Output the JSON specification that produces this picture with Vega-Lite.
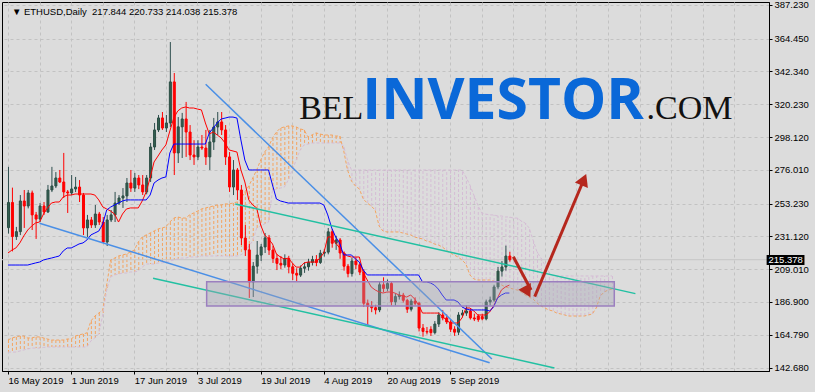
{
  "$schema": "https://vega.github.io/schema/vega-lite/v6.json",
  "width": 767,
  "height": 369,
  "autosize": {"type": "none"},
  "padding": {"left": 2, "top": 2, "right": 46, "bottom": 21},
  "background": "#dcdcdc",
  "config": {
    "view": {"stroke": "#000000", "strokeWidth": 1},
    "font": "Liberation Sans",
    "axis": {"labelFont": "Liberation Sans", "labelColor": "#000000", "domainColor": "#000000", "tickColor": "#000000"}
  },
  "resolve": {"axis": {"x": "independent", "y": "independent"}},
  "datasets": {
    "bars": [
      {"t":"2019-05-16","o":237,"h":278,"l":233,"c":254,"tk":219.9,"kj":211.8},
      {"t":"2019-05-17","o":254,"h":264,"l":221,"c":231,"tk":221.9,"kj":211.8},
      {"t":"2019-05-18","o":231,"h":237.5,"l":228.7,"c":234.3,"tk":223.3,"kj":211.8},
      {"t":"2019-05-19","o":234.3,"h":259,"l":232,"c":255,"tk":226.7,"kj":211.8},
      {"t":"2019-05-20","o":255,"h":262.4,"l":236.8,"c":251.6,"tk":231.4,"kj":211.8},
      {"t":"2019-05-21","o":251.6,"h":262.4,"l":250,"c":260.4,"tk":235.4,"kj":211.8},
      {"t":"2019-05-22","o":260.4,"h":262,"l":235.4,"c":245.6,"tk":238.1,"kj":212.5},
      {"t":"2019-05-23","o":245.6,"h":247.6,"l":229.4,"c":242.8,"tk":240.2,"kj":213.2},
      {"t":"2019-05-24","o":242.8,"h":253.6,"l":240.8,"c":251.6,"tk":240.8,"kj":213.8},
      {"t":"2019-05-25","o":251.6,"h":254.3,"l":245.6,"c":247.6,"tk":246.2,"kj":215.2},
      {"t":"2019-05-26","o":247.6,"h":265.8,"l":246.9,"c":262.4,"tk":250.3,"kj":215.9},
      {"t":"2019-05-27","o":262.4,"h":278,"l":261,"c":265.1,"tk":253.6,"kj":216.5},
      {"t":"2019-05-28","o":265.1,"h":274.5,"l":263.7,"c":270.5,"tk":254.3,"kj":217.2},
      {"t":"2019-05-29","o":270.5,"h":275.9,"l":267.1,"c":267.8,"tk":254.3,"kj":217.9},
      {"t":"2019-05-30","o":267.8,"h":287.4,"l":257,"c":261.1,"tk":257.7,"kj":221.3},
      {"t":"2019-05-31","o":261.1,"h":262.4,"l":246.9,"c":260.4,"tk":259,"kj":223.3},
      {"t":"2019-06-01","o":260.4,"h":272.5,"l":259,"c":263.1,"tk":259,"kj":223.3},
      {"t":"2019-06-02","o":263.1,"h":271.2,"l":261,"c":264.4,"tk":259.7,"kj":224.6},
      {"t":"2019-06-03","o":264.4,"h":269.1,"l":254.3,"c":259,"tk":259.7,"kj":226},
      {"t":"2019-06-04","o":259,"h":260.4,"l":232,"c":236.8,"tk":259.7,"kj":226.7},
      {"t":"2019-06-05","o":236.8,"h":245.6,"l":230.7,"c":242.2,"tk":259.7,"kj":228.7},
      {"t":"2019-06-06","o":242.2,"h":244.2,"l":236.8,"c":238.8,"tk":259.7,"kj":232.1},
      {"t":"2019-06-07","o":238.8,"h":252.3,"l":236.8,"c":246.2,"tk":259,"kj":233.4},
      {"t":"2019-06-08","o":246.2,"h":247.6,"l":238.8,"c":240.8,"tk":255.7,"kj":234.7},
      {"t":"2019-06-09","o":240.8,"h":244.2,"l":226.7,"c":227.3,"tk":251,"kj":239.5},
      {"t":"2019-06-10","o":227.3,"h":245.6,"l":224.6,"c":242.2,"tk":249.6,"kj":248.9},
      {"t":"2019-06-11","o":242.2,"h":248.9,"l":240.8,"c":245.6,"tk":248.2,"kj":250.9},
      {"t":"2019-06-12","o":245.6,"h":261.1,"l":240.8,"c":253.6,"tk":246.2,"kj":252.3},
      {"t":"2019-06-13","o":253.6,"h":259,"l":252.3,"c":257,"tk":240.8,"kj":253.6},
      {"t":"2019-06-14","o":257,"h":263.7,"l":250.3,"c":258.4,"tk":246.2,"kj":255},
      {"t":"2019-06-15","o":258.4,"h":270.5,"l":254.3,"c":267.1,"tk":249.6,"kj":255.7},
      {"t":"2019-06-16","o":267.1,"h":275.9,"l":261.1,"c":263.7,"tk":250.3,"kj":255.7},
      {"t":"2019-06-17","o":263.7,"h":273.9,"l":261.1,"c":270.5,"tk":250.3,"kj":255.7},
      {"t":"2019-06-18","o":270.5,"h":272.5,"l":263,"c":265.8,"tk":250.3,"kj":255.7},
      {"t":"2019-06-19","o":265.8,"h":272.5,"l":259,"c":261.1,"tk":255,"kj":255.7},
      {"t":"2019-06-20","o":261.1,"h":272.5,"l":259.5,"c":270.5,"tk":261.1,"kj":255.7},
      {"t":"2019-06-21","o":270.5,"h":294.1,"l":267.8,"c":291.4,"tk":270.5,"kj":259},
      {"t":"2019-06-22","o":291.4,"h":307.6,"l":289.4,"c":302.9,"tk":281.3,"kj":267.1},
      {"t":"2019-06-23","o":302.9,"h":313,"l":301.5,"c":311,"tk":285.3,"kj":269.1},
      {"t":"2019-06-24","o":311,"h":315,"l":302.9,"c":304.2,"tk":289.4,"kj":270.5},
      {"t":"2019-06-25","o":304.2,"h":313,"l":301.5,"c":307.6,"tk":292.8,"kj":271.2},
      {"t":"2019-06-26","o":307.6,"h":362.2,"l":304.9,"c":335.3,"tk":302.2,"kj":287.4},
      {"t":"2019-06-27","o":335.3,"h":341.3,"l":272.5,"c":287.4,"tk":311,"kj":293.4},
      {"t":"2019-06-28","o":287.4,"h":311.6,"l":280.6,"c":305,"tk":315.7,"kj":293.4},
      {"t":"2019-06-29","o":305,"h":314.4,"l":284,"c":310.3,"tk":317.7,"kj":293.4},
      {"t":"2019-06-30","o":310.3,"h":321.8,"l":284.7,"c":301.5,"tk":318.4,"kj":293.4},
      {"t":"2019-07-01","o":301.5,"h":306.2,"l":282.6,"c":286,"tk":317.7,"kj":293.4},
      {"t":"2019-07-02","o":286,"h":296,"l":279.3,"c":284.7,"tk":317.7,"kj":293.4},
      {"t":"2019-07-03","o":284.7,"h":296,"l":282.6,"c":291.4,"tk":317,"kj":293.4},
      {"t":"2019-07-04","o":291.4,"h":299.5,"l":289.4,"c":290.7,"tk":316.4,"kj":293.4},
      {"t":"2019-07-05","o":290.7,"h":302.9,"l":279.3,"c":284.7,"tk":307.6,"kj":293.4},
      {"t":"2019-07-06","o":284.7,"h":302.9,"l":275.9,"c":294.8,"tk":300.2,"kj":300.9},
      {"t":"2019-07-07","o":294.8,"h":311,"l":289.4,"c":304.9,"tk":301.5,"kj":304.2},
      {"t":"2019-07-08","o":304.9,"h":315,"l":299.5,"c":308.3,"tk":299.5,"kj":307.6},
      {"t":"2019-07-09","o":308.3,"h":315,"l":299.5,"c":302.9,"tk":297.5,"kj":310.3},
      {"t":"2019-07-10","o":302.9,"h":306.2,"l":279.3,"c":284.7,"tk":294.1,"kj":310.9},
      {"t":"2019-07-11","o":284.7,"h":288,"l":261.1,"c":264.4,"tk":289.4,"kj":311.6},
      {"t":"2019-07-12","o":264.4,"h":282.6,"l":259,"c":275.9,"tk":288.7,"kj":311.6},
      {"t":"2019-07-13","o":275.9,"h":277.2,"l":255.7,"c":262.4,"tk":288,"kj":310.9},
      {"t":"2019-07-14","o":262.4,"h":265.8,"l":225.3,"c":230,"tk":275.9,"kj":296.1},
      {"t":"2019-07-15","o":230,"h":238.8,"l":217.9,"c":222,"tk":267.8,"kj":282.6},
      {"t":"2019-07-16","o":222,"h":226,"l":189.6,"c":200.4,"tk":255.7,"kj":275.9},
      {"t":"2019-07-17","o":200.4,"h":213.8,"l":190.2,"c":211,"tk":252.3,"kj":275.9},
      {"t":"2019-07-18","o":211,"h":228,"l":206,"c":218.5,"tk":250.3,"kj":275.9},
      {"t":"2019-07-19","o":218.5,"h":226,"l":214.5,"c":224,"tk":238.8,"kj":275.9},
      {"t":"2019-07-20","o":224,"h":233.4,"l":219.9,"c":230.1,"tk":232.1,"kj":275.9},
      {"t":"2019-07-21","o":230.1,"h":232.1,"l":218.6,"c":221.9,"tk":229.4,"kj":275.9},
      {"t":"2019-07-22","o":221.9,"h":224.6,"l":213.2,"c":216.2,"tk":226,"kj":265.8},
      {"t":"2019-07-23","o":216.2,"h":219.2,"l":208.4,"c":212.9,"tk":219.2,"kj":256.3},
      {"t":"2019-07-24","o":212.9,"h":217.9,"l":209,"c":211.8,"tk":217.2,"kj":255},
      {"t":"2019-07-25","o":211.8,"h":219,"l":210,"c":216.2,"tk":215.9,"kj":254.3},
      {"t":"2019-07-26","o":216.2,"h":218,"l":206.2,"c":210.6,"tk":216.5,"kj":253.6},
      {"t":"2019-07-27","o":210.6,"h":212.9,"l":201.7,"c":206.2,"tk":213.2,"kj":253.6},
      {"t":"2019-07-28","o":206.2,"h":209.6,"l":201,"c":205,"tk":210.4,"kj":253.6},
      {"t":"2019-07-29","o":205,"h":211.5,"l":203.7,"c":209.6,"tk":210.4,"kj":253.6},
      {"t":"2019-07-30","o":209.6,"h":213.6,"l":206.5,"c":210.6,"tk":213.2,"kj":253.6},
      {"t":"2019-07-31","o":210.6,"h":216,"l":208,"c":213.6,"tk":213.8,"kj":253.6},
      {"t":"2019-08-01","o":213.6,"h":218,"l":211.5,"c":215.5,"tk":213.8,"kj":253.6},
      {"t":"2019-08-02","o":215.5,"h":218.5,"l":211,"c":213.5,"tk":213.8,"kj":253.6},
      {"t":"2019-08-03","o":213.5,"h":222,"l":212.5,"c":219.8,"tk":216.5,"kj":253.6},
      {"t":"2019-08-04","o":219.8,"h":222.5,"l":217.5,"c":220.5,"tk":219.9,"kj":252.3},
      {"t":"2019-08-05","o":220.5,"h":236.8,"l":219,"c":234.2,"tk":230.7,"kj":245.6},
      {"t":"2019-08-06","o":234.2,"h":236,"l":223.5,"c":226.5,"tk":230.7,"kj":236.8},
      {"t":"2019-08-07","o":226.5,"h":231.5,"l":222,"c":228.7,"tk":226.7,"kj":230.7},
      {"t":"2019-08-08","o":228.7,"h":230,"l":216,"c":219.9,"tk":223.3,"kj":226.7},
      {"t":"2019-08-09","o":219.9,"h":221,"l":208,"c":211,"tk":219.9,"kj":218.6},
      {"t":"2019-08-10","o":211,"h":212.5,"l":203.5,"c":206,"tk":217.9,"kj":218.6},
      {"t":"2019-08-11","o":206,"h":216.5,"l":204,"c":214.5,"tk":217.2,"kj":218.6},
      {"t":"2019-08-12","o":214.5,"h":217,"l":209,"c":212,"tk":217.2,"kj":215.9},
      {"t":"2019-08-13","o":212,"h":213.5,"l":205,"c":207,"tk":217.2,"kj":213.8},
      {"t":"2019-08-14","o":207,"h":209,"l":183.5,"c":186,"tk":206.4,"kj":208.4},
      {"t":"2019-08-15","o":186,"h":188.5,"l":171,"c":184,"tk":201.7,"kj":205.1},
      {"t":"2019-08-16","o":184,"h":187.5,"l":180,"c":183,"tk":197,"kj":205.1},
      {"t":"2019-08-17","o":183,"h":185,"l":178.5,"c":181.5,"tk":195,"kj":205.1},
      {"t":"2019-08-18","o":181.5,"h":201,"l":180,"c":198.5,"tk":193.6,"kj":205.1},
      {"t":"2019-08-19","o":198.5,"h":203.5,"l":193.5,"c":196,"tk":192.9,"kj":205.1},
      {"t":"2019-08-20","o":196,"h":202,"l":194.3,"c":199.3,"tk":193.6,"kj":205.1},
      {"t":"2019-08-21","o":199.3,"h":200.5,"l":184.5,"c":187,"tk":193.6,"kj":205.1},
      {"t":"2019-08-22","o":187,"h":192.5,"l":184.5,"c":190.5,"tk":192.9,"kj":205.1},
      {"t":"2019-08-23","o":190.5,"h":194,"l":188.5,"c":191.5,"tk":191.6,"kj":205.1},
      {"t":"2019-08-24","o":191.5,"h":193,"l":186.5,"c":188,"tk":190.9,"kj":205.1},
      {"t":"2019-08-25","o":188,"h":189,"l":179.5,"c":182,"tk":190.2,"kj":205.1},
      {"t":"2019-08-26","o":182,"h":189,"l":180.5,"c":187.5,"tk":191.6,"kj":205.1},
      {"t":"2019-08-27","o":187.5,"h":190,"l":184.5,"c":186,"tk":188.9,"kj":205.1},
      {"t":"2019-08-28","o":186,"h":187,"l":167,"c":169.3,"tk":184.9,"kj":205.1},
      {"t":"2019-08-29","o":169.3,"h":172,"l":163.5,"c":167,"tk":179.4,"kj":200.4},
      {"t":"2019-08-30","o":167,"h":170,"l":165,"c":166.6,"tk":179.4,"kj":200.4},
      {"t":"2019-08-31","o":168.4,"h":170.5,"l":164,"c":166.2,"tk":179.4,"kj":199.7},
      {"t":"2019-09-01","o":166.2,"h":174,"l":165,"c":172,"tk":179.4,"kj":198.3},
      {"t":"2019-09-02","o":172,"h":180,"l":170,"c":178.1,"tk":179.4,"kj":195.6},
      {"t":"2019-09-03","o":178.1,"h":181.5,"l":174.5,"c":176.1,"tk":177.4,"kj":191.6},
      {"t":"2019-09-04","o":176.1,"h":178.5,"l":172,"c":173.4,"tk":174.7,"kj":188.2},
      {"t":"2019-09-05","o":173.4,"h":175,"l":166.6,"c":168.5,"tk":172.7,"kj":188.2},
      {"t":"2019-09-06","o":168.5,"h":170.5,"l":164,"c":166.5,"tk":172.7,"kj":188.2},
      {"t":"2019-09-07","o":166.5,"h":180,"l":164.5,"c":178.1,"tk":172.7,"kj":186.9},
      {"t":"2019-09-08","o":178.1,"h":181.5,"l":176.5,"c":179.4,"tk":176.1,"kj":183.5},
      {"t":"2019-09-09","o":179.4,"h":184.5,"l":177.5,"c":180.8,"tk":182.8,"kj":182.2},
      {"t":"2019-09-10","o":180.8,"h":182,"l":175,"c":176.1,"tk":182.8,"kj":181.5},
      {"t":"2019-09-11","o":176.1,"h":179,"l":174,"c":175.4,"tk":180.8,"kj":181.5},
      {"t":"2019-09-12","o":177.4,"h":178.5,"l":173.5,"c":175,"tk":178.1,"kj":181.5},
      {"t":"2019-09-13","o":177,"h":179,"l":174.5,"c":175.5,"tk":178.1,"kj":181.5},
      {"t":"2019-09-14","o":175.5,"h":188.5,"l":174.5,"c":186.9,"tk":178.1,"kj":181.5},
      {"t":"2019-09-15","o":186.9,"h":190.5,"l":184.5,"c":188.2,"tk":180.1,"kj":180.8},
      {"t":"2019-09-16","o":188.2,"h":198.5,"l":187,"c":197,"tk":184.2,"kj":183.5},
      {"t":"2019-09-17","o":197,"h":210.5,"l":195.5,"c":207.7,"tk":189.6,"kj":189.5},
      {"t":"2019-09-18","o":207.7,"h":214.5,"l":204,"c":210.5,"tk":195,"kj":191.6},
      {"t":"2019-09-19","o":210.5,"h":224.9,"l":208,"c":217.844,"tk":197,"kj":192.9},
      {"t":"2019-09-20","o":217.844,"h":220.733,"l":214.038,"c":215.378,"tk":198.3,"kj":192.9}
    ],
    "cloud": [
      {"t":"2019-05-16","a":161.2,"b":153.1},{"t":"2019-05-17","a":162.6,"b":153.1},
      {"t":"2019-05-18","a":163.3,"b":153.1},{"t":"2019-05-19","a":163.9,"b":153.8},
      {"t":"2019-05-20","a":163.9,"b":154.5},{"t":"2019-05-21","a":162.6,"b":155.2},
      {"t":"2019-05-22","a":162.6,"b":155.8},{"t":"2019-05-23","a":163.3,"b":155.8},
      {"t":"2019-05-24","a":163.3,"b":155.8},{"t":"2019-05-25","a":162.6,"b":156.2},
      {"t":"2019-05-26","a":161.9,"b":156.5},{"t":"2019-05-27","a":161.2,"b":156.5},
      {"t":"2019-05-28","a":161.2,"b":156.5},{"t":"2019-05-29","a":161.2,"b":156.5},
      {"t":"2019-05-30","a":161.2,"b":156.5},{"t":"2019-05-31","a":161.9,"b":156.5},
      {"t":"2019-06-01","a":161.9,"b":156.5},{"t":"2019-06-02","a":163.9,"b":156.5},
      {"t":"2019-06-03","a":164.6,"b":156.5},{"t":"2019-06-04","a":165.3,"b":156.5},
      {"t":"2019-06-05","a":166,"b":156.5},{"t":"2019-06-06","a":174,"b":160.6},
      {"t":"2019-06-07","a":177.4,"b":162.6},{"t":"2019-06-08","a":179.4,"b":165.3},
      {"t":"2019-06-09","a":181.5,"b":178.1},{"t":"2019-06-10","a":198.3,"b":194.9},
      {"t":"2019-06-11","a":215.2,"b":203.7},{"t":"2019-06-12","a":216.5,"b":205.1},
      {"t":"2019-06-13","a":217.9,"b":205.7},{"t":"2019-06-14","a":218.6,"b":206.4},
      {"t":"2019-06-15","a":219.2,"b":206.4},{"t":"2019-06-16","a":220.6,"b":207.1},
      {"t":"2019-06-17","a":221.9,"b":207.1},{"t":"2019-06-18","a":227.3,"b":207.7},
      {"t":"2019-06-19","a":230.7,"b":210.4},{"t":"2019-06-20","a":232.1,"b":212.5},
      {"t":"2019-06-21","a":233.4,"b":212.5},{"t":"2019-06-22","a":234.7,"b":212.5},
      {"t":"2019-06-23","a":236.1,"b":213.2},{"t":"2019-06-24","a":236.8,"b":213.2},
      {"t":"2019-06-25","a":237.5,"b":213.8},{"t":"2019-06-26","a":240.8,"b":214.5},
      {"t":"2019-06-27","a":243.5,"b":215.2},{"t":"2019-06-28","a":244.2,"b":215.9},
      {"t":"2019-06-29","a":243.5,"b":216.5},{"t":"2019-06-30","a":243.5,"b":216.5},
      {"t":"2019-07-01","a":245.6,"b":217.2},{"t":"2019-07-02","a":246.9,"b":217.2},
      {"t":"2019-07-03","a":248.2,"b":217.2},{"t":"2019-07-04","a":249.6,"b":217.9},
      {"t":"2019-07-05","a":250.3,"b":217.9},{"t":"2019-07-06","a":250.9,"b":217.9},
      {"t":"2019-07-07","a":251.6,"b":217.9},{"t":"2019-07-08","a":252.3,"b":217.9},
      {"t":"2019-07-09","a":252.3,"b":217.9},{"t":"2019-07-10","a":253,"b":217.9},
      {"t":"2019-07-11","a":253,"b":217.9},{"t":"2019-07-12","a":253.6,"b":217.9},
      {"t":"2019-07-13","a":254.3,"b":217.9},{"t":"2019-07-14","a":256.3,"b":218.6},
      {"t":"2019-07-15","a":261.1,"b":220.6},{"t":"2019-07-16","a":265.1,"b":224.6},
      {"t":"2019-07-17","a":270.5,"b":228},{"t":"2019-07-18","a":275.9,"b":236.8},
      {"t":"2019-07-19","a":282.6,"b":238.1},{"t":"2019-07-20","a":288,"b":239.5},
      {"t":"2019-07-21","a":291.4,"b":240.8},{"t":"2019-07-22","a":297.5,"b":262.4},
      {"t":"2019-07-23","a":301.5,"b":263.1},{"t":"2019-07-24","a":304.2,"b":263.7},
      {"t":"2019-07-25","a":304.9,"b":264.4},{"t":"2019-07-26","a":305.6,"b":269.1},
      {"t":"2019-07-27","a":305.6,"b":275.9},{"t":"2019-07-28","a":304.9,"b":282.6},
      {"t":"2019-07-29","a":303.6,"b":289.4},{"t":"2019-07-30","a":302.9,"b":292.8},
      {"t":"2019-07-31","a":298.2,"b":293.4},{"t":"2019-08-01","a":299.5,"b":294.1},
      {"t":"2019-08-02","a":300.9,"b":294.1},{"t":"2019-08-03","a":300.2,"b":294.1},
      {"t":"2019-08-04","a":299.5,"b":294.1},{"t":"2019-08-05","a":299.5,"b":294.1},
      {"t":"2019-08-06","a":299.5,"b":294.1},{"t":"2019-08-07","a":298.8,"b":294.1},
      {"t":"2019-08-08","a":298.8,"b":294.1},{"t":"2019-08-09","a":289.4,"b":292.1},
      {"t":"2019-08-10","a":275.9,"b":282.6},{"t":"2019-08-11","a":268.5,"b":275.9},
      {"t":"2019-08-12","a":265.1,"b":275.9},{"t":"2019-08-13","a":263.1,"b":275.9},
      {"t":"2019-08-14","a":256.3,"b":275.9},{"t":"2019-08-15","a":253.6,"b":275.9},
      {"t":"2019-08-16","a":251.6,"b":275.9},{"t":"2019-08-17","a":248.9,"b":275.9},
      {"t":"2019-08-18","a":238.1,"b":275.9},{"t":"2019-08-19","a":234.7,"b":275.9},
      {"t":"2019-08-20","a":234.1,"b":275.9},{"t":"2019-08-21","a":234.1,"b":275.9},
      {"t":"2019-08-22","a":234.1,"b":275.9},{"t":"2019-08-23","a":234.1,"b":275.9},
      {"t":"2019-08-24","a":233.4,"b":275.9},{"t":"2019-08-25","a":232.7,"b":275.9},
      {"t":"2019-08-26","a":232.1,"b":275.9},{"t":"2019-08-27","a":230.7,"b":275.9},
      {"t":"2019-08-28","a":230,"b":275.9},{"t":"2019-08-29","a":229.4,"b":275.9},
      {"t":"2019-08-30","a":228,"b":275.9},{"t":"2019-08-31","a":227.3,"b":275.9},
      {"t":"2019-09-01","a":226,"b":275.9},{"t":"2019-09-02","a":225.3,"b":275.9},
      {"t":"2019-09-03","a":224,"b":275.9},{"t":"2019-09-04","a":221.9,"b":275.9},
      {"t":"2019-09-05","a":219.9,"b":275.9},{"t":"2019-09-06","a":218.6,"b":275.9},
      {"t":"2019-09-07","a":217.2,"b":275.9},{"t":"2019-09-08","a":215.2,"b":275.9},
      {"t":"2019-09-09","a":212.5,"b":271.2},{"t":"2019-09-10","a":205.1,"b":265.8},
      {"t":"2019-09-11","a":202.4,"b":259},{"t":"2019-09-12","a":201.7,"b":252.3},
      {"t":"2019-09-13","a":201.7,"b":246.9},{"t":"2019-09-14","a":201.7,"b":246.2},
      {"t":"2019-09-15","a":201.7,"b":245.6},{"t":"2019-09-16","a":201,"b":245.6},
      {"t":"2019-09-17","a":199.7,"b":244.9},{"t":"2019-09-18","a":198.3,"b":244.9},
      {"t":"2019-09-19","a":197,"b":244.2},{"t":"2019-09-20","a":196.3,"b":244.2},
      {"t":"2019-09-21","a":195.6,"b":243.5},{"t":"2019-09-22","a":194.9,"b":243.5},
      {"t":"2019-09-23","a":193.6,"b":241.5},{"t":"2019-09-24","a":191.6,"b":240.1},
      {"t":"2019-09-25","a":190.1,"b":236.8},{"t":"2019-09-26","a":188.9,"b":228.7},
      {"t":"2019-09-27","a":186.2,"b":220.6},{"t":"2019-09-28","a":184.2,"b":216.5},
      {"t":"2019-09-29","a":182.8,"b":211.8},{"t":"2019-09-30","a":181.5,"b":207.1},
      {"t":"2019-10-01","a":180.8,"b":204.4},{"t":"2019-10-02","a":179.4,"b":204.4},
      {"t":"2019-10-03","a":178.8,"b":204.4},{"t":"2019-10-04","a":178.1,"b":204.4},
      {"t":"2019-10-05","a":177.4,"b":204.4},{"t":"2019-10-06","a":177.4,"b":204.4},
      {"t":"2019-10-07","a":177.4,"b":204.4},{"t":"2019-10-08","a":177.4,"b":204.4},
      {"t":"2019-10-09","a":177.4,"b":204.4},{"t":"2019-10-10","a":178.1,"b":204.4},
      {"t":"2019-10-11","a":178.8,"b":204.4},{"t":"2019-10-12","a":182.8,"b":204.4},
      {"t":"2019-10-13","a":190.8,"b":204.4},{"t":"2019-10-14","a":193.6,"b":204.4},
      {"t":"2019-10-15","a":194.9,"b":204.4},{"t":"2019-10-16","a":195.6,"b":204.4}
    ],
    "trendlines": [
      {"id":"ch1","t":"2019-07-05T01:48:00Z","p":333.7},{"id":"ch1","t":"2019-09-15T13:48:00Z","p":148.4},
      {"id":"ch2","t":"2019-05-24T00:00:00Z","p":240.0},{"id":"ch2","t":"2019-09-15T00:00:00Z","p":145.9},
      {"id":"tq1","t":"2019-07-12T13:48:00Z","p":252.96},{"id":"tq1","t":"2019-10-21T22:12:00Z","p":192.5},
      {"id":"tq2","t":"2019-06-21T18:00:00Z","p":202.85},{"id":"tq2","t":"2019-10-01T10:12:00Z","p":142.35}
    ],
    "zones": [
      {"t0":"2019-07-05T07:48:00Z","t1":"2019-10-16T13:48:00Z","lo":184.17,"hi":200.56}
    ],
    "arrows": [
      {"id":"down","t":"2019-09-21T00:00:00Z","p":217.4},{"id":"down","t":"2019-09-25T12:00:00Z","p":195.0},
      {"id":"up","t":"2019-09-26T10:12:00Z","p":190.5},{"id":"up","t":"2019-10-08T12:00:00Z","p":267.1}
    ]
  },
  "layer": [
    {
      "data": {"name": "cloud"},
      "mark": {"type": "rule", "strokeWidth": 1, "strokeDash": [3, 2], "xOffset": 0.5},
      "encoding": {
        "x": {
          "field": "t", "type": "temporal",
          "scale": {"type": "utc", "nice": false,
            "domain": [{"year": 2019, "month": 5, "date": 15, "hours": 18, "utc": true},
                       {"year": 2019, "month": 11, "date": 23, "hours": 12, "utc": true}]},
          "axis": {
            "title": null,
            "values": [1557964800000, 1558656000000, 1559347200000, 1560038400000, 1560729600000, 1561420800000,
                       1562112000000, 1562803200000, 1563494400000, 1564185600000, 1564876800000, 1565568000000,
                       1566259200000, 1566950400000, 1567641600000, 1568332800000, 1569024000000, 1569715200000,
                       1570406400000, 1571097600000, 1571788800000, 1572480000000, 1573171200000, 1573862400000],
            "labelExpr": "round((datum.value - 1557964800000) / 86400000) % 16 == 0 && datum.value <= 1567641600000 ? utcFormat(datum.value, '%-d %b %Y') : ''",
            "labelAlign": "left", "labelBound": false, "labelOverlap": false, "labelFlush": false,
            "labelFontSize": 9.5, "labelPadding": 1,
            "tickSize": 3,
            "tickOpacity": {"condition": {"test": "round((datum.value - 1557964800000) / 86400000) % 16 == 0 && datum.value <= 1567641600000", "value": 1}, "value": 0},
            "grid": true, "gridColor": "#c2c2c2", "gridDash": [3, 3], "gridWidth": 1
          }
        },
        "y": {
          "field": "a", "type": "quantitative",
          "scale": {"domain": [140.32, 389.2], "zero": false, "nice": false},
          "axis": {
            "title": null, "orient": "right",
            "values": [142.68, 164.79, 186.9, 209.01, 231.12, 253.23, 276.01, 298.12, 320.23, 342.34, 364.45, 387.23],
            "format": ".3f", "labelFontSize": 9.5, "labelPadding": 2, "tickSize": 3,
            "labelOverlap": false, "labelBound": false, "labelFlush": false,
            "grid": true, "gridColor": "#c2c2c2", "gridDash": [3, 3], "gridWidth": 1
          }
        },
        "y2": {"field": "b"},
        "stroke": {"condition": {"test": "datum.a >= datum.b", "value": "#f4a460"}, "value": "#d5bcd5"}
      }
    },
    {
      "data": {"values": [{}]},
      "mark": {"type": "rule", "color": "#c6c6c6", "strokeWidth": 1},
      "encoding": {"y": {"datum": 215.378, "type": "quantitative", "axis": null}}
    },
    {
      "data": {"name": "cloud"},
      "mark": {"type": "line", "color": "#f4a460", "strokeWidth": 1, "strokeDash": [3, 2]},
      "encoding": {
        "x": {"field": "t", "type": "temporal", "axis": null},
        "y": {"field": "a", "type": "quantitative", "axis": null}
      }
    },
    {
      "data": {"name": "cloud"},
      "mark": {"type": "line", "color": "#d5bcd5", "strokeWidth": 1, "strokeDash": [3, 2]},
      "encoding": {
        "x": {"field": "t", "type": "temporal", "axis": null},
        "y": {"field": "b", "type": "quantitative", "axis": null}
      }
    },
    {
      "data": {"name": "bars"},
      "mark": {"type": "rule", "strokeWidth": 1, "xOffset": 0.5},
      "encoding": {
        "x": {"field": "t", "type": "temporal", "axis": null},
        "y": {"field": "l", "type": "quantitative", "axis": null},
        "y2": {"field": "h"},
        "color": {"condition": {"test": "datum.c >= datum.o", "value": "#2f4f4f"}, "value": "#ff0000"}
      }
    },
    {
      "data": {"name": "bars"},
      "mark": {"type": "bar", "width": 2, "strokeWidth": 1, "xOffset": 0.5},
      "encoding": {
        "x": {"field": "t", "type": "temporal", "axis": null},
        "y": {"field": "o", "type": "quantitative", "axis": null},
        "y2": {"field": "c"},
        "fill": {"condition": {"test": "datum.c >= datum.o", "value": "#335f50"}, "value": "#ff0000"},
        "stroke": {"condition": {"test": "datum.c >= datum.o", "value": "#2b4d44"}, "value": "#ff0000"}
      }
    },
    {
      "data": {"name": "bars"},
      "mark": {"type": "line", "color": "#ff0000", "strokeWidth": 1},
      "encoding": {
        "x": {"field": "t", "type": "temporal", "axis": null},
        "y": {"field": "tk", "type": "quantitative", "axis": null}
      }
    },
    {
      "data": {"name": "bars"},
      "mark": {"type": "line", "color": "#0000ff", "strokeWidth": 1},
      "encoding": {
        "x": {"field": "t", "type": "temporal", "axis": null},
        "y": {"field": "kj", "type": "quantitative", "axis": null}
      }
    },
    {
      "data": {"name": "trendlines"},
      "mark": {"type": "line", "strokeWidth": 1.5},
      "encoding": {
        "x": {"field": "t", "type": "temporal", "axis": null},
        "y": {"field": "p", "type": "quantitative", "axis": null},
        "detail": {"field": "id"},
        "color": {"field": "id", "type": "nominal", "legend": null,
          "scale": {"domain": ["ch1", "ch2", "tq1", "tq2"], "range": ["#4a8fe6", "#4a8fe6", "#22c0a2", "#22c0a2"]}}
      }
    },
    {
      "data": {"name": "zones"},
      "mark": {"type": "rect", "fill": "#a4a2b2", "fillOpacity": 0.38, "stroke": "#9b7fbf", "strokeWidth": 1.5},
      "encoding": {
        "x": {"field": "t0", "type": "temporal", "axis": null},
        "x2": {"field": "t1"},
        "y": {"field": "lo", "type": "quantitative", "axis": null},
        "y2": {"field": "hi"}
      }
    },
    {
      "data": {"name": "arrows"},
      "mark": {"type": "line", "color": "#b5271d", "strokeWidth": 3},
      "encoding": {
        "x": {"field": "t", "type": "temporal", "axis": null},
        "y": {"field": "p", "type": "quantitative", "axis": null},
        "detail": {"field": "id"}
      }
    },
    {
      "data": {"values": [{}]},
      "mark": {"type": "point", "shape": "triangle", "filled": true, "size": 200, "angle": 152, "color": "#b5271d", "opacity": 1},
      "encoding": {
        "x": {"datum": {"year": 2019, "month": 9, "date": 24, "hours": 8, "minutes": 24, "utc": true}, "type": "temporal", "axis": null},
        "y": {"datum": 194.95, "type": "quantitative", "axis": null}
      }
    },
    {
      "data": {"values": [{}]},
      "mark": {"type": "point", "shape": "triangle", "filled": true, "size": 200, "angle": 23, "color": "#b5271d", "opacity": 1},
      "encoding": {
        "x": {"datum": {"year": 2019, "month": 10, "date": 8, "hours": 15, "minutes": 36, "utc": true}, "type": "temporal", "axis": null},
        "y": {"datum": 268.1, "type": "quantitative", "axis": null}
      }
    },
    {
      "data": {"values": [{}]},
      "mark": {"type": "text", "text": "BEL", "font": "Liberation Serif", "fontSize": 34, "color": "#111111", "align": "left", "baseline": "alphabetic"},
      "encoding": {
        "x": {"datum": {"year": 2019, "month": 7, "date": 28, "hours": 18, "utc": true}, "type": "temporal", "axis": null},
        "y": {"datum": 310.3, "type": "quantitative", "axis": null}
      }
    },
    {
      "data": {"values": [{}]},
      "mark": {"type": "text", "text": "INVESTOR", "font": "Open Sans", "fontWeight": "bold", "fontSize": 57, "color": "#0a68d8", "align": "left", "baseline": "alphabetic"},
      "encoding": {
        "x": {"datum": {"year": 2019, "month": 8, "date": 13, "hours": 18, "utc": true}, "type": "temporal", "axis": null},
        "y": {"datum": 310.3, "type": "quantitative", "axis": null}
      }
    },
    {
      "data": {"values": [{}]},
      "mark": {"type": "text", "text": ".COM", "font": "Liberation Serif", "fontSize": 34, "color": "#111111", "align": "left", "baseline": "alphabetic"},
      "encoding": {
        "x": {"datum": {"year": 2019, "month": 10, "date": 24, "hours": 18, "utc": true}, "type": "temporal", "axis": null},
        "y": {"datum": 310.3, "type": "quantitative", "axis": null}
      }
    },
    {
      "data": {"values": [{}]},
      "mark": {"type": "text", "text": "▼ ETHUSD,Daily\u00a0\u00a0217.844 220.733 214.038 215.378", "font": "Liberation Sans", "fontSize": 9.5, "color": "#000000", "align": "left", "baseline": "alphabetic"},
      "encoding": {
        "x": {"datum": {"year": 2019, "month": 5, "date": 17, "utc": true}, "type": "temporal", "axis": null},
        "y": {"datum": 380.5, "type": "quantitative", "axis": null}
      }
    },
    {
      "data": {"values": [{}]},
      "mark": {"type": "rect", "fill": "#000000"},
      "encoding": {
        "x": {"datum": {"year": 2019, "month": 11, "date": 24, "hours": 4, "utc": true}, "type": "temporal", "axis": null},
        "x2": {"datum": {"year": 2019, "month": 12, "date": 3, "hours": 18, "utc": true}},
        "y": {"datum": 218.56, "type": "quantitative", "axis": null},
        "y2": {"datum": 211.82}
      }
    },
    {
      "data": {"values": [{}]},
      "mark": {"type": "text", "text": "215.378", "font": "Liberation Sans", "fontSize": 9.5, "color": "#ffffff", "align": "center", "baseline": "middle"},
      "encoding": {
        "x": {"datum": {"year": 2019, "month": 11, "date": 29, "utc": true}, "type": "temporal", "axis": null},
        "y": {"datum": 215.378, "type": "quantitative", "axis": null}
      }
    }
  ]
}
